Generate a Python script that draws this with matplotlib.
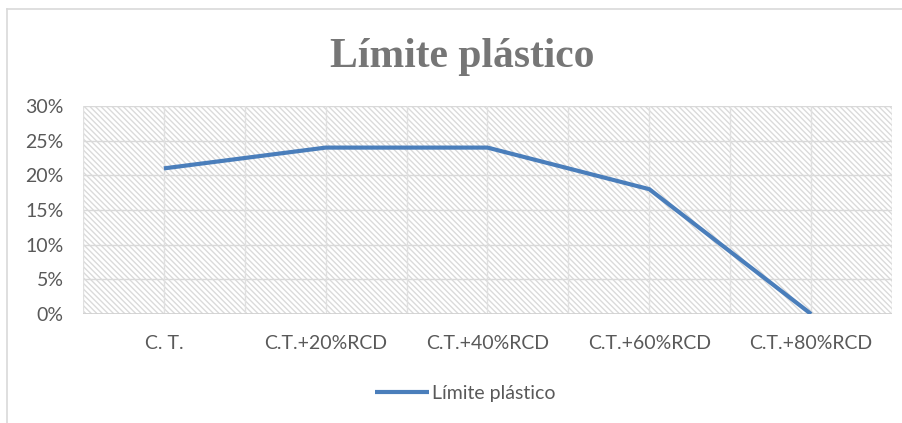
import matplotlib
matplotlib.use("Agg")
import matplotlib.pyplot as plt
from matplotlib.patches import Rectangle
from matplotlib.lines import Line2D
from matplotlib.ticker import PercentFormatter

categorias = ["C. T.", "C.T.+20%RCD", "C.T.+40%RCD", "C.T.+60%RCD", "C.T.+80%RCD"]
limite_plastico = [0.21, 0.24, 0.24, 0.18, 0.0]
y_ticks = [0, 0.05, 0.10, 0.15, 0.20, 0.25, 0.30]

plt.rcParams['font.family'] = ['Lato', 'DejaVu Sans']
plt.rcParams['hatch.linewidth'] = 1.0

W, H = 903, 423
fig = plt.figure(figsize=(W / 100, H / 100), dpi=100)
ax = fig.add_axes([83 / W, 1 - 314 / H, (892 - 83) / W, (314 - 106) / H])

# fondo rayado del area de trazado
ax.patch.set_visible(False)
ax.add_patch(Rectangle((0, 0), 1, 1, transform=ax.transAxes, facecolor='white',
                       edgecolor='#dadada', hatch='\\' * 6, lw=0, zorder=0))

x = list(range(len(categorias)))
ax.plot(x, limite_plastico, color='#4a7ebb', lw=3, solid_capstyle='butt',
        solid_joinstyle='miter', zorder=3, label='Límite plástico')

ax.set_xlim(-0.5, len(categorias) - 0.5)
ax.set_ylim(0, 0.30)
ax.set_yticks(y_ticks)
ax.yaxis.set_major_formatter(PercentFormatter(1.0, decimals=0))
ax.set_xticks(x)
ax.set_xticklabels(categorias)

# cuadricula: horizontales en cada tick, verticales cada media categoria
for yv in y_ticks:
    ax.axhline(yv, color='#d9d9d9', lw=1, zorder=1)
k = -0.5
while k <= len(categorias) - 0.5 + 1e-9:
    ax.axvline(k, color='#e0e0e0', lw=1, zorder=1)
    k += 0.5
ax.axhline(0, color='#d0d0d0', lw=1.2, zorder=2)

for s in ax.spines.values():
    s.set_visible(False)
ax.tick_params(length=0, labelsize=14, labelcolor='#595959')
ax.tick_params(axis='x', pad=15)
ax.tick_params(axis='y', pad=14)

fig.text(462 / W, 1 - 67 / H, 'Límite plástico', ha='center', va='baseline',
         fontsize=30, fontweight='bold', color='#767676',
         family=['Liberation Serif', 'DejaVu Serif'])

leg = fig.legend(loc='center', bbox_to_anchor=(465 / W, 1 - 393 / H), frameon=False,
                 fontsize=14, handlelength=2.8, handletextpad=0.15)
for t in leg.get_texts():
    t.set_color('#595959')

# marco del grafico
fig.add_artist(Line2D([7 / W, 1], [1 - 9 / H, 1 - 9 / H], color='#d9d9d9', lw=1.2))
fig.add_artist(Line2D([7 / W, 7 / W], [1 - 9 / H, 0], color='#d9d9d9', lw=1.2))

fig.savefig('out.png', dpi=100)
